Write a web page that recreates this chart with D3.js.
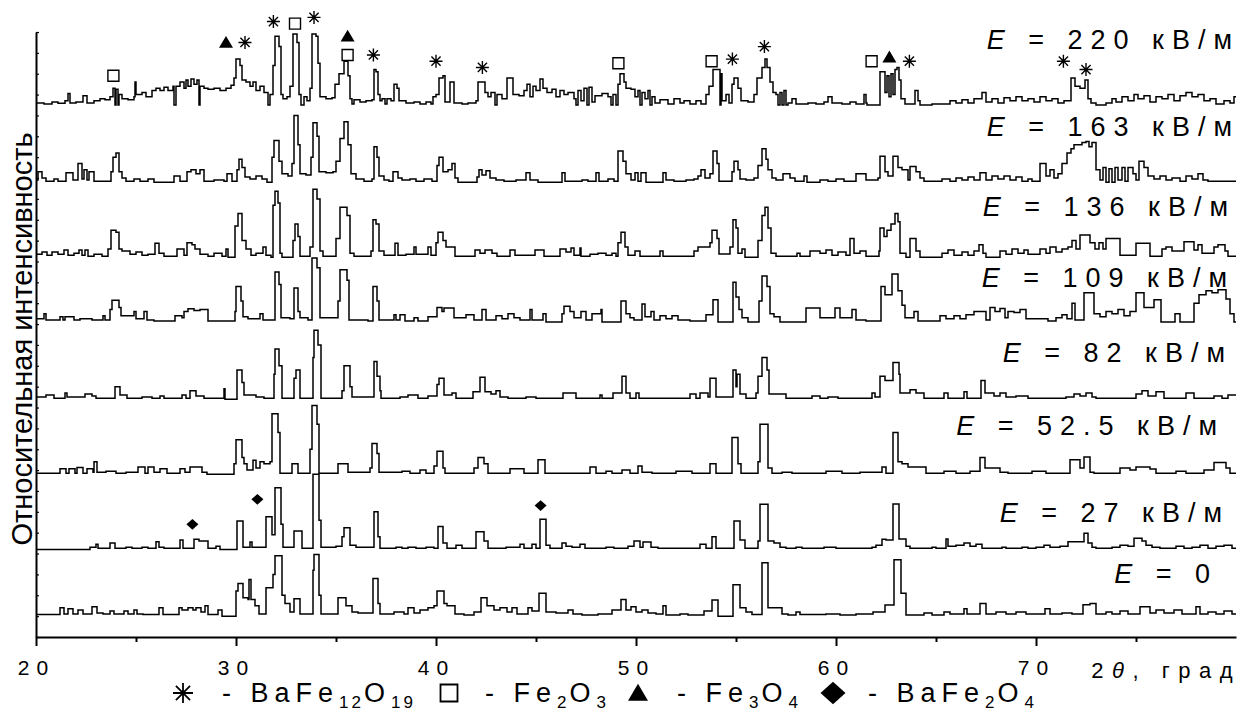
<!DOCTYPE html>
<html>
<head>
<meta charset="utf-8">
<script src="https://cdn.jsdelivr.net/npm/d3@7"></script>
<style>
  body { margin: 0; background: #fff; }
  svg { display: block; font-family: "Liberation Sans", Arial, sans-serif; }
</style>
</head>
<body>
<svg id="chart" width="1247" height="713"></svg>
<script>
// field labels, kV/m
const fields = ["220", "163", "136", "109", "82", "52.5", "27", "0"];
// vertical offset of each pattern, intensity units
const offsets = [255, 218, 182, 151, 114, 78, 42, 10];

// [2theta, intensity] step points
const e220 = [[20,1],[20.4,0.5],[20.8,1.5],[21.1,0.8],[21.45,2],[21.6,5.5],[21.7,1],[22,1.5],[22.35,4.5],[22.55,1],[22.9,2],[23.2,3],[23.45,2.5],[23.7,4],[23.85,8],[23.95,0],[24,7.5],[24.1,0],[24.15,5],[24.3,3],[24.6,2.5],[24.9,4],[24.95,11],[25,5],[25.3,6],[25.5,4],[25.8,7],[26,8],[26.2,7],[26.4,8.5],[26.6,7],[26.85,9],[26.9,0],[27,9],[27.2,11],[27.4,8],[27.5,12],[27.6,9],[27.75,12.5],[27.9,10],[28.05,12],[28.15,0],[28.2,9],[28.4,8],[28.6,7.5],[28.9,8],[29.2,7],[29.5,8],[29.75,9.5],[29.9,13],[30,22],[30.2,19],[30.3,12],[30.5,11],[30.7,9],[30.85,11],[31,7],[31.2,9],[31.4,6],[31.6,0],[31.7,5],[31.85,19],[31.95,33],[32.15,28],[32.25,5],[32.35,3],[32.55,4],[32.7,9],[32.85,34],[33.05,30],[33.15,5],[33.25,0],[33.4,4],[33.55,2],[33.7,8],[33.8,34],[34,33],[34.1,20],[34.2,4],[34.5,3],[34.8,3.5],[34.95,10],[35.15,15],[35.4,21],[35.6,14],[35.7,3],[35.8,0.5],[35.9,2.5],[36.2,1.5],[36.5,2],[36.8,2.5],[36.9,17],[37,16],[37.1,5],[37.2,2],[37.3,3],[37.45,0.5],[37.55,3],[37.75,2],[37.9,10],[38.05,8],[38.15,2],[38.5,1],[38.9,1.5],[39.2,0.5],[39.5,1.5],[39.75,0.5],[39.85,4],[40,5],[40.15,13],[40.35,14],[40.45,1.5],[40.7,11],[40.9,1],[41.3,0.5],[41.6,1],[42,2],[42.1,11],[42.45,6],[42.6,4],[42.75,6],[42.95,0],[43.05,5],[43.3,3],[43.55,13],[43.85,5],[44.15,4.5],[44.4,7],[44.55,10],[44.7,4],[44.85,9],[45,7],[45.2,12.5],[45.35,8],[45.55,6],[45.8,7.5],[46,4],[46.2,7],[46.4,5],[46.6,6],[46.9,3],[47,0],[47.1,7],[47.25,2],[47.4,8],[47.55,0],[47.65,8.5],[47.8,1.5],[47.95,4.5],[48.3,5.5],[48.6,4],[48.75,0],[48.85,5],[49,0],[49.1,10],[49.2,15],[49.4,11],[49.5,8],[49.75,7.5],[49.95,4],[50.1,7],[50.2,0],[50.3,6],[50.45,3],[50.6,7],[50.7,0],[50.8,4],[50.95,1],[51.2,2.5],[51.6,0.5],[51.9,3],[52.2,1],[52.4,2],[52.7,0.5],[53,2],[53.25,0.5],[53.5,5],[53.65,9],[53.85,17],[54.2,0],[54.25,15],[54.3,2],[54.5,5],[54.65,1],[54.8,10],[54.9,13],[55.1,8],[55.25,2],[55.6,1.5],[55.9,5],[56.05,13],[56.3,18],[56.45,22],[56.55,18],[56.7,11],[56.85,6],[57,5],[57.1,0],[57.2,6],[57.3,0],[57.4,7],[57.5,0],[57.6,1],[57.8,3],[58,0.5],[58.6,1],[59,0.5],[59.4,1.5],[59.6,4],[59.8,1],[60.3,0.5],[60.7,1.5],[61,0.5],[61.4,5],[61.5,1],[61.55,0],[62.2,16],[62.45,6],[62.55,14],[62.65,4],[62.75,15],[62.85,5],[62.95,17],[63.05,18],[63.15,12],[63.25,3],[63.45,0.5],[63.95,7],[64.1,2],[64.2,0],[64.8,0.5],[65.7,2],[66,1],[66.3,2.5],[66.6,1],[66.9,3],[67.3,6],[67.5,1.5],[67.8,3],[68.1,1],[68.4,3.5],[68.7,2],[69,4],[69.3,2],[69.6,3],[69.9,1.5],[70.2,4],[70.5,2],[70.8,3],[71.1,1],[71.4,2],[71.75,13],[71.95,9],[72.2,8],[72.45,12],[72.6,3],[72.75,1],[73,0],[73.5,1],[73.8,3],[74,1.5],[74.3,4],[74.6,2],[74.9,5],[75.1,3],[75.4,4.5],[75.7,1.5],[76,4],[76.3,3],[76.6,5],[76.9,2],[77.2,4.5],[77.5,6],[77.8,4],[78.1,5],[78.4,2],[78.7,3],[79,0.5],[79.4,2],[79.7,1],[79.9,4]];
const e163 = [[20,1],[20.1,5],[20.3,2],[20.5,0.5],[20.9,1.5],[21.1,0.5],[21.5,4.5],[21.85,1],[22.1,9],[22.3,1.5],[22.4,6],[22.55,1],[22.65,5],[22.9,0.5],[23.5,0.5],[23.75,5],[23.85,12],[24,14],[24.15,5],[24.3,2],[24.5,0.5],[24.9,1.5],[25.2,0.5],[25.6,1.5],[25.9,0],[26.9,3],[27.2,0.5],[27.55,5],[27.75,6],[28,4],[28.2,6],[28.4,0.5],[28.9,1],[29.4,0.5],[29.55,4],[29.8,0.5],[30.05,6],[30.15,11],[30.3,7],[30.45,2.5],[30.7,1.5],[31,3],[31.3,1.5],[31.55,0],[31.8,12],[31.9,20],[32.15,10],[32.3,4],[32.6,3],[32.8,9],[32.9,32],[33.1,18],[33.2,4],[33.5,3.5],[33.75,12],[33.85,28.5],[34.05,22],[34.15,5],[34.5,4.5],[34.85,5],[35,10],[35.2,21],[35.4,29],[35.6,18],[35.75,4],[36,1.5],[36.4,0.5],[36.8,1.5],[36.9,17],[37.05,12],[37.15,3],[37.4,1],[37.65,0.5],[37.85,5],[38.1,2],[38.3,1],[38.7,1.5],[39,0.5],[39.4,1.5],[39.8,0.5],[40.05,8],[40.15,12],[40.35,5],[40.6,6],[40.8,9],[40.95,2],[41.1,0],[42.05,2.5],[42.15,6],[42.3,3.5],[42.5,5.5],[42.7,2],[43,1],[43.4,0.5],[44,1],[44.5,4.5],[44.7,1],[45.1,0],[46.3,4.5],[46.45,0.5],[47.3,1],[47.6,0.5],[48,4.5],[48.15,0.5],[48.6,1.5],[48.9,0.5],[49.1,15],[49.35,10],[49.5,4],[49.75,1],[49.95,4.5],[50.1,0.5],[50.25,4.5],[50.5,0],[51.35,4.5],[51.5,1],[51.9,0.5],[52.5,1],[52.9,1.5],[53.1,3],[53.25,6],[53.45,2],[53.7,4],[53.85,15],[54.05,9],[54.15,0.5],[54.8,5],[54.9,10],[55.1,6],[55.2,1.5],[55.5,1],[55.9,2],[56.1,8],[56.3,16],[56.5,11],[56.6,6],[56.8,2],[57,1],[57.35,4],[57.7,2],[57.95,0.5],[58.4,3],[58.55,0],[59.2,1],[59.6,0.5],[60,1.5],[60.4,0.5],[61,4],[61.5,1],[62.1,2],[62.2,12.5],[62.45,5],[62.6,3],[62.85,12.5],[63.1,7],[63.3,6],[63.6,1],[63.7,7.5],[64,5],[64.2,2],[64.4,0.5],[65.3,1.5],[65.7,0.5],[66,2],[66.3,1],[66.6,2.5],[66.9,1],[67.2,4.5],[67.5,1],[67.8,3],[68.1,1.5],[68.4,3],[68.7,1],[69,2.5],[69.3,0.5],[69.6,1.5],[69.8,0.5],[70.2,9],[70.5,3],[70.7,6],[70.9,2],[71.1,4],[71.3,9],[71.55,14],[71.75,16],[71.9,18],[72.3,19],[72.5,19.5],[72.65,17],[72.8,19],[73,6],[73.2,1],[73.35,7],[73.5,0],[73.65,6.5],[73.8,0],[73.95,7],[74.1,1],[74.3,7],[74.45,0.5],[74.6,7],[74.85,4],[75,1],[75.15,10],[75.4,7],[75.6,3],[75.9,1.5],[76.2,3],[76.5,1],[76.8,2],[77.2,0.5],[77.5,3],[77.8,1.5],[78.1,4],[78.35,1],[78.6,0.5],[79.9,0.5]];
const e136 = [[20,1.5],[20.3,2.5],[20.55,1],[20.8,2.5],[21.1,1.5],[21.4,3.5],[21.6,1],[21.9,2],[22.15,3.5],[22.3,1],[22.45,3.5],[22.6,0.5],[22.9,1.5],[23.3,0.5],[23.6,4],[23.75,13],[24,12],[24.15,4],[24.3,3],[24.7,1.5],[25,2.5],[25.3,1],[25.6,1.5],[25.95,6.7],[26.15,2],[26.4,0.5],[27.05,4],[27.4,1],[27.55,7],[27.8,6],[27.95,4],[28.2,1.5],[28.6,0.5],[28.9,2],[29.3,0.5],[29.5,4],[29.6,0],[29.95,15],[30.1,21],[30.3,8],[30.5,4],[30.75,1],[31,2],[31.35,5],[31.5,1],[31.75,0],[31.85,25],[31.95,31.7],[32.1,26],[32.2,2],[32.3,0],[32.85,8],[32.95,16],[33.1,10],[33.2,0.5],[33.7,5],[33.85,32.6],[34.05,28],[34.2,3],[34.35,0.5],[35,9],[35.2,24],[35.55,20],[35.7,2],[35.9,0.5],[36.75,3],[36.85,18],[37,16],[37.15,3],[37.4,1],[37.95,6.7],[38.1,1],[38.5,1.5],[38.9,5],[39,1.5],[39.6,5],[39.75,1],[40,7],[40.1,12],[40.35,8],[40.5,5],[40.95,0.5],[41.95,3.5],[42.2,2],[42.45,3.5],[42.8,2],[43.05,0.5],[43.7,3.5],[43.95,1],[44.95,3.5],[45.4,0.5],[46.2,4],[46.5,2.5],[46.75,4.5],[46.9,1],[47.2,4.5],[47.25,0.5],[47.7,1.5],[48.1,2],[48.5,1],[48.8,2],[49,0.5],[49.1,7],[49.25,12],[49.45,5],[49.6,1],[49.95,3],[50.2,0.5],[51.2,3],[51.35,0.5],[52.9,3],[53.1,5],[53.7,7],[53.8,13],[54.05,9],[54.15,1.6],[54.7,5],[54.85,18],[55,14],[55.1,2],[55.3,4],[55.45,0],[56.1,8],[56.3,20],[56.45,24],[56.6,14],[56.75,2],[57,0.5],[58.05,2],[58.2,0.5],[58.7,3],[59.2,2],[59.5,3.5],[59.8,1],[60.1,2.5],[60.5,1],[60.7,9],[60.9,2],[61.2,3],[61.5,0.5],[62.15,3],[62.2,14],[62.4,10],[62.55,13],[62.75,16],[62.95,21],[63.1,17],[63.2,2],[63.5,0],[63.7,9],[64,3],[64.2,0],[65.3,2],[65.6,3.5],[65.9,1],[66.3,2.5],[66.6,1],[66.9,3],[67.15,6],[67.35,2],[67.5,0],[68.2,3],[68.5,1.5],[68.8,4],[69.1,2],[69.4,3.5],[69.6,1.5],[70.2,4],[70.5,2],[70.7,5],[71,2.5],[71.3,4],[71.6,5],[71.8,8],[72,4],[72.2,10.7],[72.7,7],[72.95,4],[73.15,7],[73.35,4],[73.5,9],[74.2,1],[75,6.7],[75.7,0.5],[76.3,4],[76.5,5],[76.8,3],[77.4,7.5],[77.9,3.5],[78.1,6],[78.3,2],[78.9,5],[79.1,6],[79.45,3],[79.6,0.5]];
const e109 = [[20,1.5],[20.4,4],[20.5,1],[21.2,2.5],[21.35,1],[21.45,2.5],[21.9,1],[22.2,1.5],[22.8,1],[23.35,3],[23.45,1],[23.7,6],[23.8,10.4],[24.15,7],[24.25,3],[24.9,5],[25,1.5],[25.4,5],[25.55,1],[25.9,0.5],[26.95,3],[27.3,2],[27.4,5],[27.6,6.4],[27.9,5.5],[28.2,6],[28.6,0.5],[29.95,5],[30,17],[30.25,10],[30.35,2.5],[30.6,1.5],[31.2,4],[31.35,1],[31.7,1],[31.95,24],[32.15,18],[32.25,2],[32.7,1.5],[32.9,16.3],[33.1,5],[33.2,2],[33.6,1],[33.8,30.7],[34.05,26],[34.2,2],[34.9,2],[35.1,10],[35.2,25],[35.55,20],[35.65,1],[36.6,0.5],[36.85,17],[37.05,10],[37.15,1],[37.9,3.5],[38,1],[38.2,3.5],[38.45,0.5],[38.9,2],[39.1,0.5],[39.6,2.5],[40.05,7],[40.3,5],[40.4,6.7],[40.9,2],[41.5,3.5],[41.9,1],[42.3,6],[42.5,1],[43,3],[43.3,1.5],[43.6,4],[43.9,2],[44.2,1],[44.7,6],[44.8,1],[45.35,4],[45.5,0],[46.3,4],[46.4,7.5],[46.7,5],[46.9,2],[47.25,5],[47.5,1],[47.8,4],[48.25,6],[48.3,0],[49.25,10],[49.5,4],[49.7,2],[49.9,1],[50.3,8.6],[50.45,2.5],[50.75,5],[50.9,1],[51.2,3],[51.5,1.5],[51.8,3],[52.1,1],[52.7,0.5],[53.5,3.5],[53.85,10.7],[54.1,0],[54.85,19],[55,12],[55.15,6],[55.3,2],[55.6,0],[56.15,10],[56.3,22],[56.55,17],[56.7,4],[56.9,2.5],[57.2,0],[58.5,6.7],[59.2,2],[59.95,6.7],[60.2,2],[60.8,6],[61,1],[61.5,0.5],[62.25,17],[62.45,13],[62.8,23],[63.1,15],[63.3,8],[63.45,2],[63.9,5],[64.1,0.5],[65.2,3],[65.5,1.5],[65.9,3],[66.2,1.5],[66.5,3.5],[66.9,5],[67.5,1],[67.7,7],[67.95,5],[68.2,6.5],[68.45,2],[68.6,5],[68.9,4.5],[69.2,6],[69.5,1.5],[70.6,0.5],[71,2],[71.3,3.5],[71.55,1.5],[71.8,9],[71.95,1],[72.4,14],[72.9,4],[73.2,2.5],[73.5,5],[73.8,4],[74.1,6],[74.4,3],[74.7,5],[75,14],[75.4,7],[75.9,10.7],[76.25,0],[76.95,4],[77.2,0],[77.9,9],[78.15,13],[78.5,15],[78.8,14],[79.1,15.5],[79.5,11],[79.7,4],[79.9,0]];
const e82 = [[20,1],[20.5,2],[20.9,0.5],[21.45,3],[21.55,1],[22.45,2.5],[22.8,1.5],[23,0.5],[23.95,6],[24.2,2],[24.55,0.5],[25.3,1],[25.8,0.5],[26.2,1.5],[26.4,0.5],[27.3,2],[27.5,0.5],[27.7,4],[28,1.5],[28.4,0.5],[29.4,5],[29.45,0],[30.05,14],[30.3,8],[30.4,2],[31,1],[31.4,0.5],[31.9,12],[31.95,24],[32.15,16],[32.3,0.5],[32.9,10],[33,14],[33.2,0.5],[33.85,20],[33.9,33],[34.1,26],[34.25,0.5],[35.3,4],[35.4,16],[35.7,6],[35.8,1],[36.9,18],[37.05,11],[37.2,4],[37.25,0.5],[38.2,1],[38.6,2],[39.1,0.5],[39.6,1.5],[40.05,7],[40.15,10],[40.4,2],[40.8,3],[41,0.5],[41.85,3.5],[42.2,10.5],[42.45,3.5],[42.75,2.5],[43,4],[43.2,1],[43.6,0.5],[44.5,1],[45,0.5],[46.35,3],[47,0.5],[48.2,2],[48.3,0.5],[48.85,3],[49.3,11],[49.5,3],[49.7,0.5],[50,3],[50.15,0.5],[52.7,2.5],[53,0.5],[53.2,3],[53.6,1],[53.7,10],[54,1],[54.85,14],[55,6],[55.05,12],[55.2,2.5],[55.5,0.5],[56,3],[56.1,11],[56.3,20],[56.55,14],[56.65,2.5],[57.2,2.5],[57.5,0.5],[58.8,1.5],[59.2,0.5],[59.6,1],[60.1,0.5],[61.8,3],[61.95,1],[62.2,11],[62.45,9],[62.85,17.6],[63.15,12],[63.2,3],[63.7,4.5],[64,3],[64.4,0.5],[65.4,3],[65.6,0.5],[66.4,3.5],[66.55,0.5],[67.25,9],[67.45,3],[67.9,1.5],[68.2,3],[68.5,1],[69,1.5],[69.6,0.5],[71.5,1],[71.9,2.5],[72.2,1.5],[72.5,3],[72.8,1],[73,0.5],[75,2.5],[75.3,4],[75.6,1.5],[76,3.5],[76.4,0.5],[77.5,3],[77.9,0.5],[78.9,1.5],[79.3,0.5],[79.6,2],[79.9,2]];
const e52 = [[20,0.5],[21.2,2.7],[21.5,0.5],[21.65,2.7],[21.95,0.5],[22.05,3.2],[22.35,0.5],[22.55,2.7],[22.85,1],[22.9,6],[23.05,1],[23.5,1.5],[24,0.5],[24.5,1],[25.1,3.5],[25.45,0.5],[25.6,3.5],[25.9,1],[26.2,2.7],[26.55,0.5],[27.2,2.7],[27.45,1],[27.7,3.5],[28.3,1],[28.55,0],[29.9,5],[30,16.6],[30.3,8],[30.4,5],[30.55,2],[30.85,6.7],[31,3],[31.2,6],[31.4,5],[31.7,6],[31.8,29],[32.1,20],[32.2,0.5],[32.8,5],[33.1,0.5],[33.7,12],[33.8,33],[34.05,24],[34.15,0.5],[35.1,5],[35.6,1],[36.7,3],[36.8,14.7],[37.05,10],[37.15,1],[38.3,1.5],[38.7,0.5],[39.2,2],[39.5,0.5],[39.9,4],[40.05,11],[40.35,3],[40.45,0.5],[41.9,3],[42.1,8],[42.4,5],[42.6,0.5],[43.7,2.7],[44.4,0.5],[45.1,7],[45.45,0.5],[47.7,3.5],[48,0.5],[48.5,1.5],[48.8,0.5],[49.3,2],[49.7,0.5],[50.1,4],[50.3,1],[50.8,0.5],[52,1.5],[52.8,0.5],[53.7,5],[54,0.5],[54.8,17.6],[55.1,5],[55.25,0.5],[56.1,6],[56.2,24],[56.6,3],[56.8,0.5],[57.3,1],[57.8,0.5],[59.5,1.5],[60.3,0.5],[61.2,1],[62.3,3.5],[62.5,0.5],[62.85,20],[63.1,6],[63.3,5],[63.6,3.5],[64.5,0.5],[65.4,1.5],[66,0.5],[66.7,1.5],[67.2,8],[67.45,3],[68.2,1],[68.6,0.5],[69.8,1.5],[70.5,0.5],[71.7,7],[72.2,3],[72.4,8.3],[72.7,1],[72.9,0.5],[74.2,3],[74.7,2],[75,3.5],[75.7,2.5],[76,0.5],[77,1.5],[77.5,0.5],[78.4,2],[78.9,5.6],[79.5,3],[79.7,0.5]];
const e27 = [[20,0],[22.7,1],[23,2.4],[23.1,0.5],[23.7,3],[23.95,0.5],[24.5,1],[24.8,0.5],[25.3,1],[25.6,0.5],[26,3.7],[26.15,1],[26.4,0.5],[27.2,4.5],[27.35,0.5],[27.9,4.8],[28.15,4],[28.4,4],[28.6,0.5],[29,1.5],[29.2,0],[30.05,13.6],[30.35,1],[30.7,3.5],[30.8,1],[31.5,15.7],[31.8,7],[31.95,29.6],[32.25,12],[32.35,1],[32.9,8.8],[33.3,0.5],[33.85,36],[34.15,14],[34.25,1],[35,1.5],[35.3,6],[35.4,10.4],[35.7,2],[36,1],[36.9,18],[37.1,6],[37.2,0.5],[38,1],[38.3,0.5],[38.6,1],[39,0.5],[39.5,1],[39.9,0.5],[40.1,11],[40.35,3],[40.55,0.5],[41,2],[41.3,0.5],[42,8.5],[42.4,4],[42.6,0.5],[43.5,1],[44.2,2.5],[44.4,0.5],[44.8,2.5],[45,0.5],[45.2,14.4],[45.5,2],[45.7,0.5],[46.3,3],[46.5,1.5],[46.8,1],[47.2,2.5],[47.45,0.5],[48.5,1],[48.9,0.5],[49.6,1.5],[49.9,4],[50.2,1],[50.35,3.5],[50.75,1],[51.1,0.5],[53.2,2.5],[53.5,0.5],[53.8,6],[54,0.5],[54.9,13.6],[55.2,4.5],[55.45,0.5],[56.1,4],[56.2,21.6],[56.6,4],[56.9,3],[57.2,1],[57.5,0.5],[58,1],[58.3,0.5],[59.4,1],[60,0.5],[61.8,1],[62,2],[62.3,4.8],[62.5,4.5],[62.85,21.8],[63.15,5],[63.5,1.5],[63.7,0.5],[64.8,1],[65,0.5],[65.5,5],[65.6,1.5],[66,2],[66.4,3],[66.7,1.5],[67,2.5],[67.3,0.5],[68.3,1],[68.5,0.5],[69.3,1],[69.6,0.5],[70,1],[70.4,2],[70.7,1],[71.2,1.5],[71.6,3.7],[72.4,7.7],[72.6,3],[72.8,1],[73,0.5],[73.8,1],[74.2,2],[74.6,1.5],[74.9,5.3],[75.3,4],[75.5,2],[75.8,1],[76.2,0.5],[77,1.5],[77.4,0.5],[77.8,1],[78.2,2],[78.6,0.5],[79,1.5],[79.4,2],[79.8,0.5]];
const e0 = [[20,0.8],[21.2,4],[21.4,1],[21.6,3.5],[21.85,1],[22.1,3],[22.35,1],[22.8,4.5],[23.05,1.5],[23.35,1],[23.7,2.5],[23.9,1],[24.4,2.5],[24.6,1],[24.9,3],[25.05,1],[25.35,0.8],[26.15,4],[26.35,0.8],[27.15,4],[27.3,3],[27.6,4],[27.85,3],[28,4],[28.25,2],[28.45,5],[28.6,0.8],[29.1,3],[29.3,0],[30,12],[30.1,15.7],[30.35,8.8],[30.6,8],[30.65,17.6],[30.75,8],[30.95,5],[31.15,1],[31.5,13.6],[31.85,20],[31.95,29],[32.3,10],[32.45,6],[32.7,2],[32.9,8.3],[33.2,1],[33.85,22],[33.9,29.6],[34.15,10],[34.25,1],[35.1,8.8],[35.5,5],[35.8,2],[36.1,1.5],[36.85,18],[37.1,6],[37.2,1],[37.9,2],[38.4,1],[38.6,4],[38.9,1.5],[39.2,3],[39.6,4],[39.9,5],[40.05,12],[40.4,6],[40.55,5],[40.95,1],[41.4,0.5],[41.9,2],[42.25,8.8],[42.55,5],[42.9,3],[43.2,4],[43.55,2],[43.8,4],[44.05,1],[44.6,4],[44.8,2.5],[45.15,11],[45.5,2],[46,1.5],[46.6,3],[46.85,1],[47.3,0.5],[48.1,1],[48.8,3],[49.25,8],[49.5,3],[49.75,4.5],[50,2],[50.3,3],[50.6,1.5],[51,1],[51.35,5],[51.5,0.5],[52.2,1],[52.6,0.5],[53.4,2.5],[53.8,7.7],[54.1,0],[54.85,15],[55.2,4],[55.5,2],[55.8,0.8],[56.3,25.6],[56.6,4],[57.3,1],[57.6,0.5],[58,2],[58.2,0.8],[59.5,1],[60.2,0.5],[61,1],[61.85,2],[62.45,5.3],[62.9,27],[63.25,11],[63.5,0.5],[64.4,1.5],[64.8,0.5],[65.4,2],[65.7,1],[66.4,3.5],[66.55,1],[67.2,6],[67.5,1],[68,2],[68.5,1],[69,2],[69.5,1],[70.45,3.5],[70.7,1],[71.3,1.5],[71.8,1],[72.35,5.5],[72.7,6],[73,1],[73.5,2],[73.8,1],[74.2,2.5],[74.6,1],[75.2,4.5],[75.7,1.5],[76,3],[76.4,1.5],[76.9,3],[77.3,1],[78,4.5],[78.2,1],[78.6,2],[79,1],[79.4,2.5],[79.8,1]];
const patterns = [e220, e163, e136, e109, e82, e52, e27, e0];

// phase marks: [2theta, level, phase]
const phaseMarks = [
  [23.87, 269, "sq"], [29.5, 285, "tri"], [30.45, 285, "ast"], [31.87, 295, "ast"],
  [32.95, 294, "sq"], [33.9, 297, "ast"], [35.58, 288, "tri"], [35.58, 279, "sq"],
  [36.87, 279, "ast"], [40.0, 276, "ast"], [42.32, 273, "ast"], [49.12, 275, "sq"],
  [53.78, 276, "sq"], [54.82, 277, "ast"], [56.42, 283, "ast"], [61.78, 276, "sq"],
  [62.67, 278, "tri"], [63.67, 276, "ast"], [71.37, 276, "ast"], [72.5, 272, "ast"],
  [27.82, 54, "dia"], [31.07, 66, "dia"], [45.23, 63, "dia"]
];

const xTicks = [20, 30, 40, 50, 60, 70];
const xMinor = [25, 35, 45, 55, 65, 75];

// layout: label right edge (2theta) and height above its baseline
const labelRight = [79.8, 79.8, 79.6, 79.55, 79.45, 79.05, 79.3, 78.7];
const labelRise = [27, 22, 20, 17, 18, 19, 13, 16];

const legendItems = [
  { sym: "ast", cx: 183, tx: 222, parts: [["- BaFe", 0], ["12", 1], ["O", 0], ["19", 1]] },
  { sym: "sq", cx: 449, tx: 485, parts: [["- Fe", 0], ["2", 1], ["O", 0], ["3", 1]] },
  { sym: "tri", cx: 638, tx: 677, parts: [["- Fe", 0], ["3", 1], ["O", 0], ["4", 1]] },
  { sym: "dia", cx: 833, tx: 868, parts: [["- BaFe", 0], ["2", 1], ["O", 0], ["4", 1]] }
];

const svg = d3.select("#chart");
svg.append("rect").attr("width", 1247).attr("height", 713).attr("fill", "#fff");

const x = d3.scaleLinear().domain([20, 80]).range([36, 1236]);
const y = d3.scaleLinear().domain([0, 290]).range([637, 32]);

// patterns
const line = d3.line().curve(d3.curveStepAfter);
svg.append("g")
  .attr("fill", "none")
  .attr("stroke", "#000")
  .attr("stroke-width", 1.5)
  .selectAll("path")
  .data(patterns)
  .join("path")
  .attr("d", (d, i) => {
    const pts = d.concat([[80, d[d.length - 1][1]]]);
    return line(pts.map(p => [x(p[0]), y(offsets[i] + p[1])]));
  });

// phase symbols
function marker(type, r) {
  const p = d3.path();
  if (type === "ast") {
    for (let k = 0; k < 4; k++) {
      const a = k * Math.PI / 4;
      p.moveTo(r * Math.cos(a), r * Math.sin(a));
      p.lineTo(-r * Math.cos(a), -r * Math.sin(a));
    }
  } else if (type === "sq") {
    p.rect(-r, -r, 2 * r, 2 * r);
  } else if (type === "tri") {
    const h = r * 1.7;
    p.moveTo(0, -h * 0.55); p.lineTo(r, h * 0.45); p.lineTo(-r, h * 0.45); p.closePath();
  } else {
    p.moveTo(0, -r * 0.9); p.lineTo(r, 0); p.lineTo(0, r * 0.9); p.lineTo(-r, 0); p.closePath();
  }
  return p.toString();
}
function styleMarker(sel, type, sw) {
  if (type === "ast" || type === "sq") sel.attr("fill", "none").attr("stroke", "#000").attr("stroke-width", sw);
  else sel.attr("fill", "#000").attr("stroke", "none");
}
const markSize = { ast: 6.5, sq: 5.5, tri: 7, dia: 6 };
svg.append("g").selectAll("path")
  .data(phaseMarks)
  .join("path")
  .attr("transform", d => `translate(${x(d[0])},${y(d[1])})`)
  .attr("d", d => marker(d[2], markSize[d[2]]))
  .each(function (d) { styleMarker(d3.select(this), d[2], 1.4); });

// field labels
const labels = svg.append("g")
  .attr("font-size", 27)
  .attr("letter-spacing", 8)
  .attr("text-anchor", "end")
  .selectAll("text")
  .data(fields)
  .join("text")
  .attr("x", (d, i) => x(labelRight[i]) + 8)
  .attr("y", (d, i) => y(offsets[i] + labelRise[i]));
labels.append("tspan").attr("font-style", "italic").text("E");
labels.append("tspan").text(d => d === "0" ? " = 0" : ` = ${d} кВ/м`);

// axes
const xAxis = svg.append("g")
  .attr("transform", "translate(0,637)")
  .call(d3.axisBottom(x).tickValues(xTicks).tickSize(9).tickPadding(14).tickSizeOuter(0));
xAxis.select(".domain").attr("stroke-width", 2);
xAxis.selectAll(".tick line").attr("stroke-width", 2);
xAxis.selectAll(".tick text")
  .attr("font-size", 21)
  .attr("letter-spacing", 7)
  .attr("font-family", "Liberation Sans, Arial, sans-serif")
  .attr("fill", "#000");

const xMinorAxis = svg.append("g")
  .attr("transform", "translate(0,637)")
  .call(d3.axisBottom(x).tickValues(xMinor).tickSize(5).tickFormat("").tickSizeOuter(0));
xMinorAxis.select(".domain").remove();
xMinorAxis.selectAll(".tick line").attr("stroke-width", 2);

const yAxis = svg.append("g")
  .attr("transform", "translate(36,0)")
  .call(d3.axisLeft(y).tickValues(d3.range(0, 291, 10)).tickSize(-3).tickFormat("").tickSizeOuter(0));
yAxis.select(".domain").attr("stroke-width", 2);
yAxis.selectAll(".tick line").attr("stroke-width", 1.2);

// axis titles
svg.append("text")
  .attr("transform", "translate(32,339) rotate(-90)")
  .attr("text-anchor", "middle")
  .attr("font-size", 29)
  .text("Относительная интенсивность");

const xTitle = svg.append("text")
  .attr("x", 1241)
  .attr("y", 678)
  .attr("text-anchor", "end")
  .attr("font-size", 22)
  .attr("letter-spacing", 8.5);
xTitle.append("tspan").text("2");
xTitle.append("tspan").attr("font-style", "italic").text("θ");
xTitle.append("tspan").text(", град");

// legend
const leg = svg.append("g");
legendItems.forEach(it => {
  const s = leg.append("path")
    .attr("transform", `translate(${it.cx},693)`)
    .attr("d", marker(it.sym, it.sym === "ast" ? 10 : it.sym === "sq" ? 8.5 : it.sym === "tri" ? 10 : 12.5));
  styleMarker(s, it.sym, 1.8);
  const t = leg.append("text")
    .attr("x", it.tx)
    .attr("y", 702)
    .attr("font-size", 27)
    .attr("letter-spacing", 6);
  let low = false;
  it.parts.forEach(([txt, sub]) => {
    const ts = t.append("tspan").text(txt);
    if (sub) {
      ts.attr("font-size", 17).attr("letter-spacing", 3).attr("dy", low ? 0 : 6);
      low = true;
    } else if (low) {
      ts.attr("dy", -6);
      low = false;
    }
  });
});
</script>
</body>
</html>
